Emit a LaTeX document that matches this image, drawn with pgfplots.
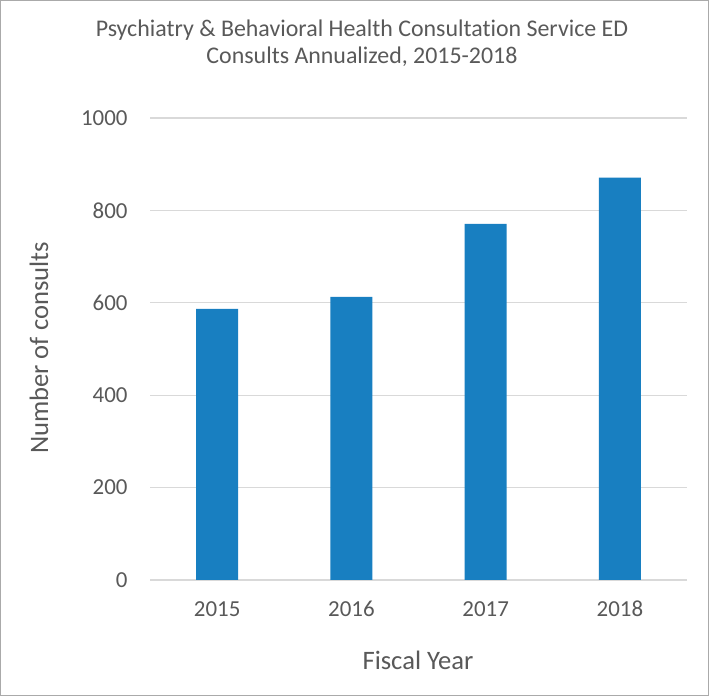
\documentclass[border=0pt]{standalone}
\usepackage{pgfplots}
\pgfplotsset{compat=1.18}
\usepackage{fontspec}
\setmainfont{Carlito}[Ligatures={NoCommon}]
\definecolor{barblue}{RGB}{24,127,193}
\definecolor{txt}{RGB}{89,89,89}
\definecolor{gridc}{RGB}{217,217,217}
\definecolor{framec}{RGB}{170,170,170}
\begin{document}
\begin{tikzpicture}[x=1bp,y=1bp]
\fill[white] (0,0) rectangle (709,696);
\draw[framec, line width=1.2bp] (0.6,0.6) rectangle (708.4,695.4);
\begin{axis}[
  at={(150bp,116bp)}, anchor=south west,
  width=537bp, height=462bp, scale only axis,
  xmin=-0.5, xmax=3.5, ymin=0, ymax=1000,
  ytick={0,200,400,600,800,1000},
  xtick={0,1,2,3}, xticklabels={2015,2016,2017,2018},
  ymajorgrids, grid style={gridc, line width=1.3bp},
  axis line style={draw=none},
  major tick length=0pt,
  ticklabel style={font=\fontsize{23}{27}\selectfont, text=txt},
  /pgf/number format/assume math mode=true,
  /pgf/number format/1000 sep={},
  yticklabel style={xshift=-19bp},
  xticklabel style={yshift=-17bp, text height=16bp, text depth=0bp},
  ybar, bar width=42bp,
]
\addplot[fill=barblue, draw=none] coordinates {(0,587) (1,613) (2,771) (3,871)};
\end{axis}
\node[text=txt, font=\fontsize{24}{27}\selectfont, align=center] at (362,653) {Psychiatry \& Behavioral Health Consultation Service ED\\Consults Annualized, 2015-2018};
\node[text=txt, font=\fontsize{26.7}{30}\selectfont, rotate=90] at (39,348) {Number of consults};
\node[text=txt, font=\fontsize{26.7}{30}\selectfont] at (418,36) {Fiscal Year};
\end{tikzpicture}
\end{document}
